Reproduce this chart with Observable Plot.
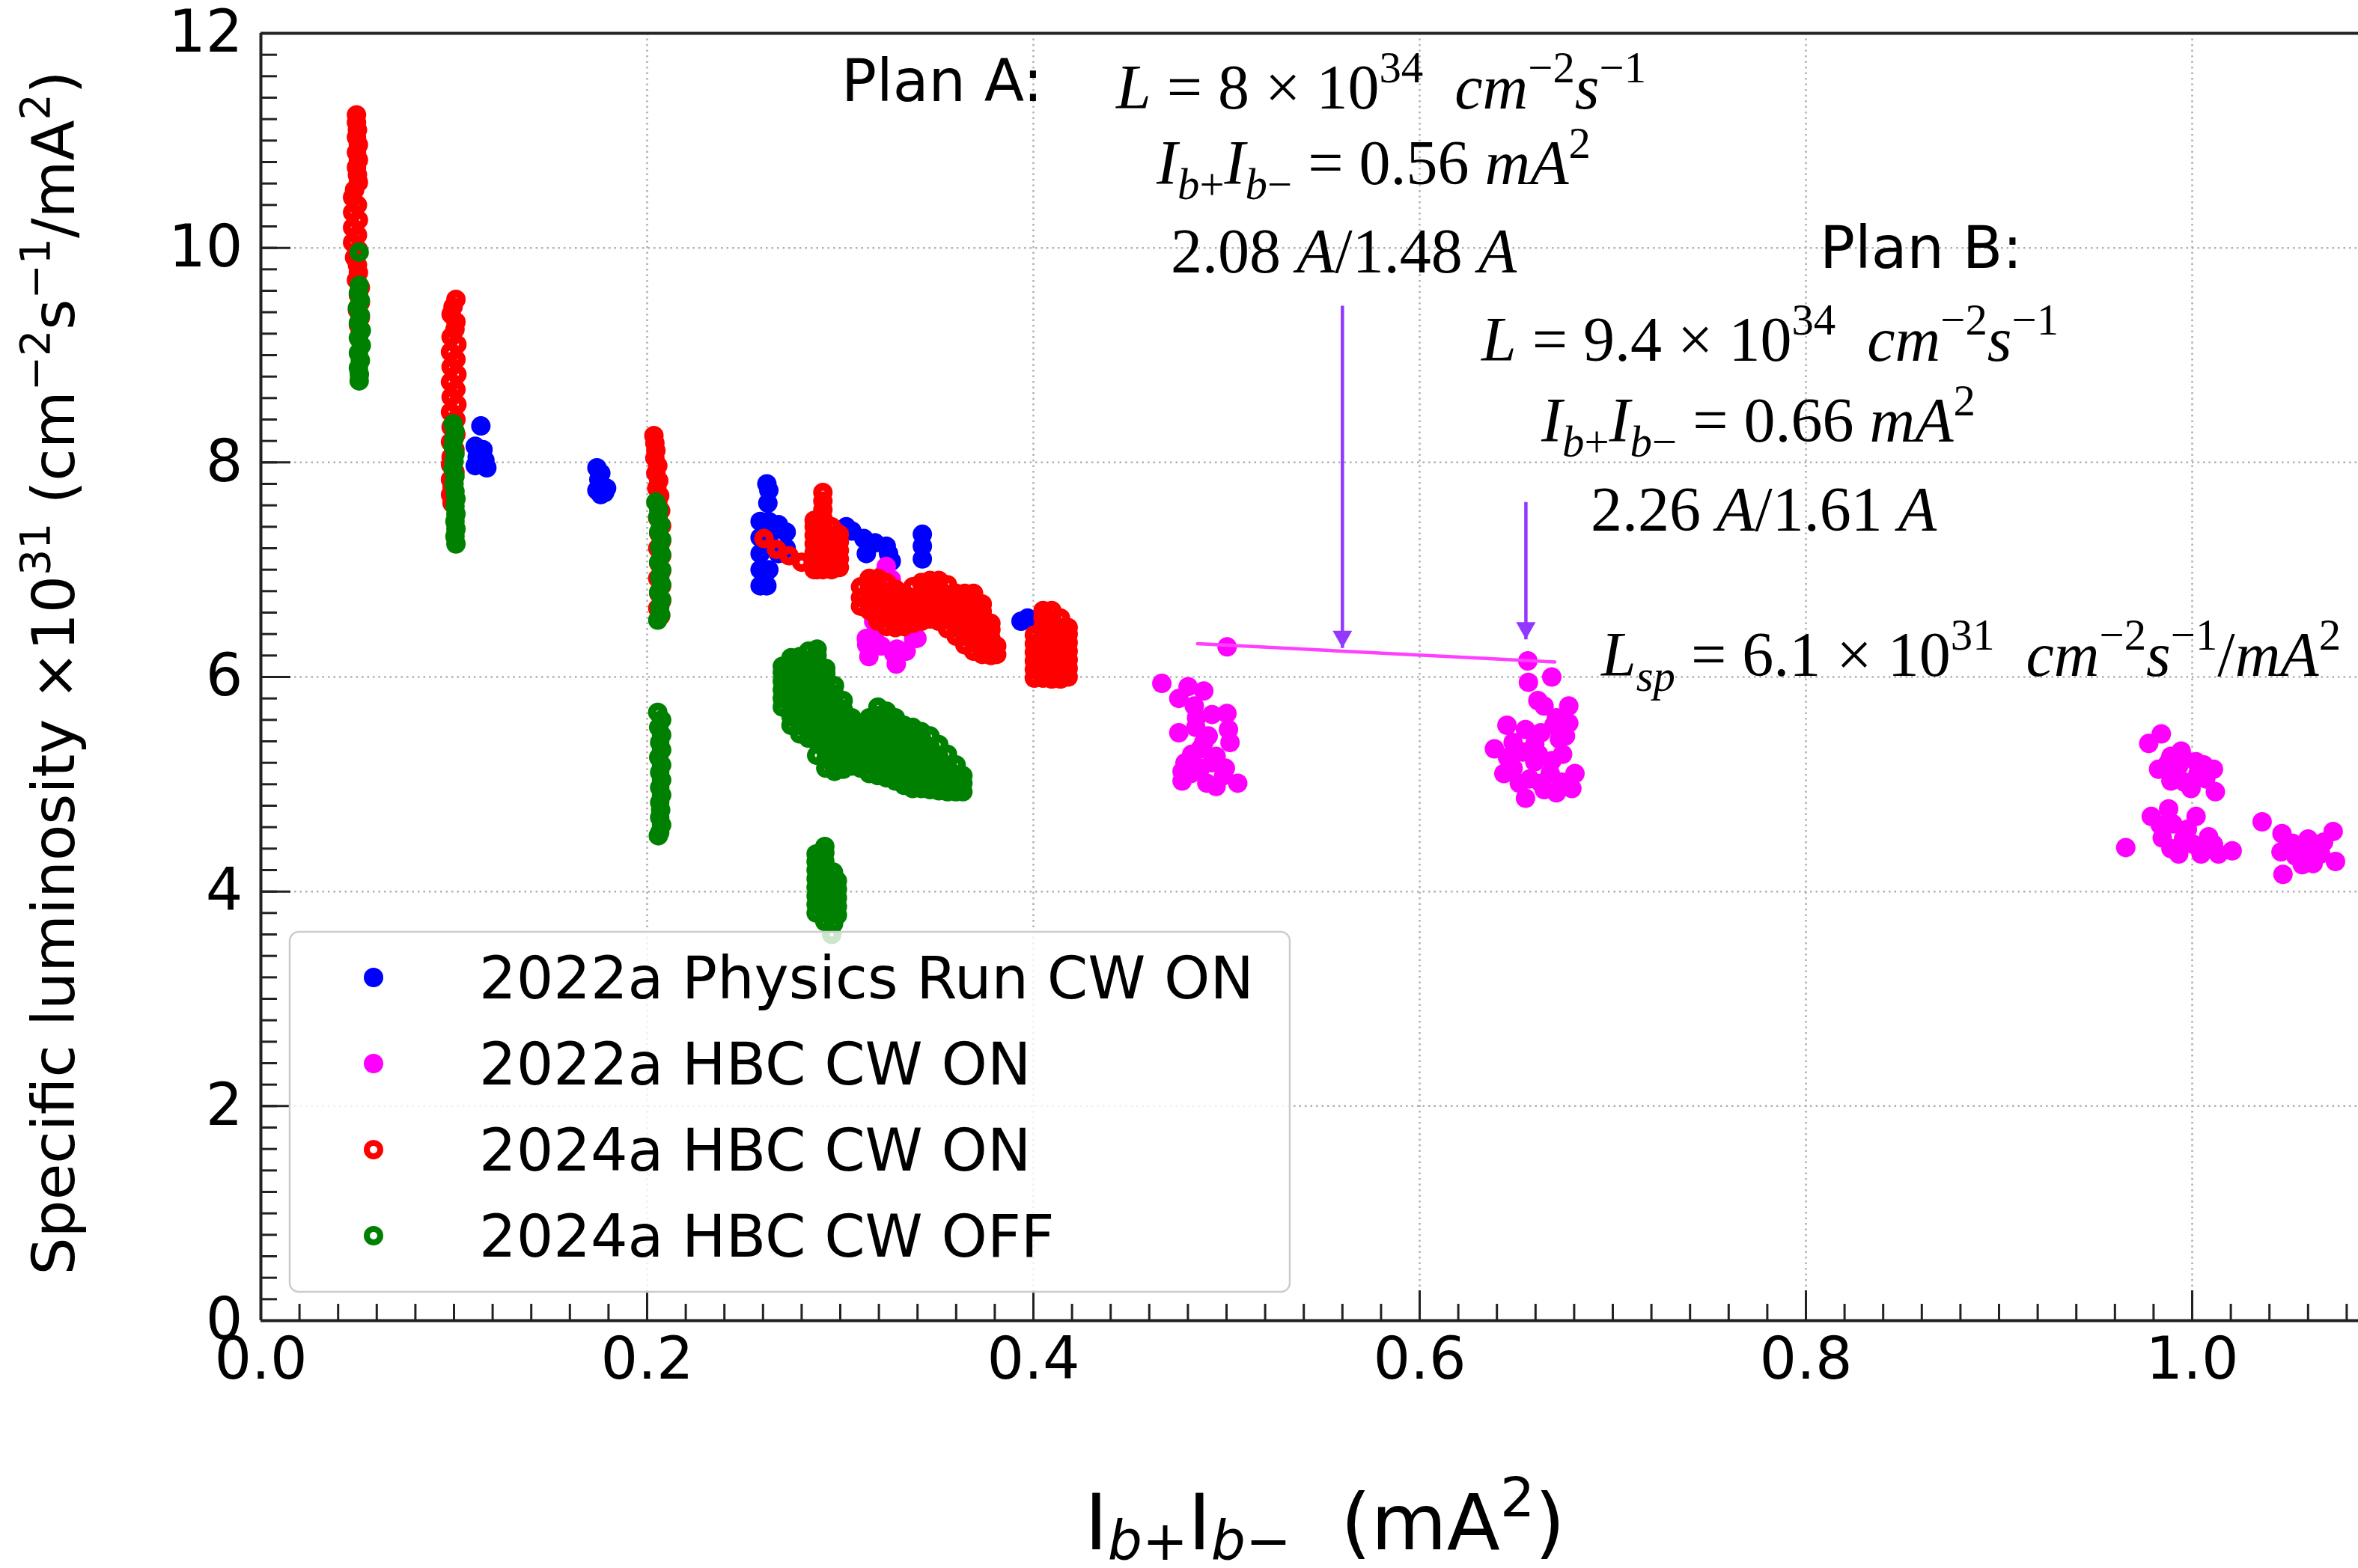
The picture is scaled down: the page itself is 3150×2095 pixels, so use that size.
<!DOCTYPE html>
<html>
<head>
<meta charset="utf-8">
<script src="https://cdn.jsdelivr.net/npm/d3@7"></script>
<script src="https://cdn.jsdelivr.net/npm/@observablehq/plot@0.6"></script>
<style>
  html, body { margin: 0; padding: 0; background: #fff; overflow: hidden; }
  svg { display: block; }
</style>
</head>
<body>
<div id="chart"></div>
<script>
// ---------------- DATA ----------------
const seriesNames = ["2022a Physics Run CW ON", "2022a HBC CW ON", "2024a HBC CW ON", "2024a HBC CW OFF"];
const seriesColors = ["#0000ff", "#ff00ff", "#ff0000", "#008000"];
const seriesHollow = [false, false, true, true];

// 2022a Physics Run CW ON (blue, filled)
const physicsX = [
  0.1139,0.111,0.115,0.112,0.116,0.111,0.117,0.114,
  0.174,0.176,0.175,0.177,0.174,0.178,0.176,0.179,
  0.262,0.263,0.2625,0.2585,0.263,0.268,0.272,0.272,0.268,0.2585,0.263,0.2585,0.2585,0.263,0.2585,0.262,0.2605,
  0.3031,0.306,0.3122,0.3135,0.318,0.3238,0.3264,0.325,
  0.3425,0.3425,0.3425,
  0.3936,0.397
];
const physicsY = [
  8.34,8.15,8.12,8.05,8.02,7.97,7.95,8.00,
  7.95,7.90,7.84,7.78,7.74,7.72,7.70,7.76,
  7.80,7.74,7.62,7.45,7.45,7.42,7.35,7.20,7.15,7.30,7.30,7.15,7.00,7.00,6.85,6.85,6.92,
  7.40,7.36,7.29,7.15,7.25,7.22,7.08,7.15,
  7.33,7.22,7.10,
  6.52,6.55
];

// 2022a HBC CW ON (magenta, filled)
const hbc22X = [
  0.3228,0.3264,0.3238,0.3173,0.3135,0.3148,0.3212,0.3277,0.329,0.3341,0.338,0.3176,0.3293,0.3137,0.3397,
  0.5003,0.4665,0.4801,0.4882,0.4833,0.4753,0.5002,0.501,0.5018,0.4753,0.4841,0.4882,0.482,0.4946,0.477,0.477,0.4898,0.4946,0.5058,0.4994,0.4866,
  0.4845,0.4905,0.4865,0.4925,0.4815,0.4985,0.4925,0.4785,
  0.656,0.6563,0.6684,0.6612,0.6644,0.6772,0.6772,0.6708,0.6452,0.6548,0.6628,0.6387,0.6484,0.6596,0.6724,0.674,0.6484,0.6596,0.6676,0.6804,0.6516,0.6548,0.6708,0.6788,0.6628,0.6436,
  0.6535,0.6615,0.6685,0.6455,0.657,0.6735,0.6645,0.6695,0.6755,
  0.984,0.9775,0.9943,1.002,1.011,0.9826,0.989,0.9994,1.012,1.007,0.993,0.989,
  0.9955,1.003,0.9875,0.996,1.006,
  0.9788,0.9878,1.002,0.990,0.989,0.9955,1.0046,1.0085,1.0136,1.0207,0.993,
  0.9835,0.9975,1.0005,1.011,0.9845,
  0.9656,1.0362,
  1.0465,1.046,1.047,1.060,1.0626,1.073,1.0742,1.0536,1.0665,
  1.052,1.057,1.068,1.0585
];
const hbc22Y = [
  6.97,6.91,7.03,6.52,6.36,6.19,6.29,6.22,6.12,6.24,6.36,6.39,6.26,6.30,6.36,
  6.28,5.94,5.91,5.87,5.73,5.80,5.66,5.51,5.39,5.48,5.53,5.39,5.28,5.26,5.12,5.03,5.01,4.98,5.01,5.15,5.15,
  5.62,5.45,5.33,5.20,5.10,5.08,5.65,5.20,
  6.15,5.95,6.00,5.78,5.73,5.73,5.57,5.62,5.55,5.51,5.48,5.33,5.39,5.37,5.42,5.28,5.15,5.21,5.10,5.10,5.01,4.87,4.92,4.96,5.01,5.10,
  5.30,5.28,5.22,5.25,5.05,5.02,4.95,5.55,5.45,
  5.47,5.38,5.31,5.21,5.14,5.14,5.03,4.96,4.93,5.05,5.17,5.26,
  5.24,5.10,5.20,5.02,5.18,
  4.70,4.77,4.70,4.63,4.40,4.49,4.35,4.51,4.35,4.38,4.35,
  4.62,4.58,4.44,4.44,4.50,
  4.41,4.65,
  4.54,4.37,4.16,4.49,4.26,4.56,4.28,4.33,4.35,
  4.45,4.25,4.46,4.40
];

// 2024a HBC CW ON (red, open) — vertical stripes (one entry per point)
const hbc24onStripeX = [
  0.0495,0.0495,0.050,0.0495,0.0505,0.0495,0.0505,0.0495,0.050,0.0505,0.0485,0.0475,0.050,0.0475,0.0505,0.0475,0.050,0.0475,0.0505,0.0485,0.050,0.0505,0.0495,0.0515,0.0505,0.0515,0.050,0.0515,0.0505,0.0515,
  0.1010,0.0995,0.0985,0.1010,0.1005,0.0985,0.1015,0.0982,0.1010,0.0985,0.1015,0.0982,0.1010,0.0985,0.1015,0.0982,0.1010,0.0985,0.1010,0.0982,0.1005,0.0985,0.0982,0.1005,0.0982,0.0990,0.0982,0.0990,
  0.2035,0.204,0.2045,0.204,0.2055,0.2045,0.206,0.205,0.2065,0.2055,0.207,0.2055,0.2075,0.206,0.2075,0.2055,0.2075,0.206,0.2075,0.2055,0.2075,0.206,0.2075,0.2055,0.207
];
const hbc24onStripeY = [
  11.24,11.17,11.10,11.03,10.96,10.89,10.82,10.75,10.68,10.61,10.54,10.47,10.40,10.33,10.26,10.19,10.12,10.05,9.98,9.91,9.84,9.77,9.70,9.63,9.56,9.49,9.42,9.35,9.28,9.22,
  9.52,9.45,9.38,9.31,9.24,9.17,9.10,9.03,8.96,8.89,8.82,8.75,8.68,8.61,8.54,8.47,8.40,8.33,8.26,8.19,8.12,8.05,7.98,7.91,7.84,7.77,7.70,7.62,
  8.25,8.18,8.11,8.04,7.97,7.90,7.83,7.76,7.69,7.62,7.55,7.48,7.41,7.34,7.27,7.20,7.13,7.06,6.99,6.92,6.85,6.78,6.71,6.64,6.57
];
// red dense groups, as columns: x of each column and the y values read in it
const hbc24onColX = [
  0.2865, 0.291, 0.2955, 0.2995,
  0.3105, 0.315, 0.3195, 0.324, 0.3285, 0.333, 0.3375, 0.342, 0.3465, 0.351, 0.3555, 0.360, 0.3645, 0.369, 0.3735, 0.378, 0.381,
  0.4005, 0.405, 0.4095, 0.414, 0.418
];
const hbc24onColY = [
  [7.00,7.08,7.16,7.24,7.32,7.40,7.46],
  [7.00,7.08,7.16,7.24,7.32,7.40,7.48,7.56,7.64,7.72],
  [7.00,7.08,7.16,7.24,7.32,7.40],
  [7.02,7.10,7.18,7.26,7.33],
  [6.66,6.74,6.84],
  [6.62,6.70,6.78,6.86,6.92],
  [6.52,6.60,6.68,6.76,6.84,6.92],
  [6.47,6.55,6.63,6.71,6.79,6.88],
  [6.46,6.54,6.62,6.70,6.78,6.82],
  [6.47,6.55,6.63,6.71,6.78],
  [6.50,6.58,6.66,6.74,6.84],
  [6.52,6.60,6.68,6.76,6.88],
  [6.54,6.62,6.70,6.78,6.86,6.90],
  [6.52,6.60,6.68,6.76,6.84,6.90],
  [6.45,6.53,6.61,6.69,6.77,6.86],
  [6.38,6.46,6.54,6.62,6.70,6.78],
  [6.30,6.38,6.46,6.54,6.62,6.70,6.78],
  [6.24,6.32,6.40,6.48,6.56,6.64,6.72,6.78],
  [6.21,6.29,6.37,6.45,6.53,6.61,6.68],
  [6.20,6.28,6.36,6.44,6.50],
  [6.21,6.29],
  [5.99,6.07,6.15,6.23,6.31,6.39],
  [5.99,6.07,6.15,6.23,6.31,6.39,6.47,6.55,6.62],
  [5.98,6.06,6.14,6.22,6.30,6.38,6.46,6.54,6.62],
  [5.98,6.06,6.14,6.22,6.30,6.38,6.46,6.55],
  [6.00,6.08,6.16,6.24,6.32,6.40,6.46]
];
// red isolated chain of rings
const hbc24onChainX = [0.2605, 0.267, 0.2735, 0.280, 0.288];
const hbc24onChainY = [7.29, 7.19, 7.13, 7.07, 7.00];

// 2024a HBC CW OFF (green, open) — vertical stripes
const hbc24offStripeX = [
  0.0509,0.051,0.0505,0.0515,0.050,0.0515,0.0505,0.052,0.0505,0.052,0.0505,0.0515,0.0505,0.051,0.0509,
  0.0995,0.1005,0.100,0.0995,0.1005,0.100,0.0995,0.1005,0.100,0.1005,0.101,0.1005,0.101,0.1005,0.101,0.1005,0.101,
  0.2045,0.206,0.2055,0.207,0.206,0.2075,0.2065,0.2075,0.206,0.2075,0.2065,0.2075,0.206,0.2075,0.2065,0.207,0.2055,
  0.2055,0.2075,0.206,0.2075,0.2065,0.2075,0.206,0.2075,0.2065,0.2075,0.2065,0.2075,0.2065,0.207,0.2065,0.2075,0.2065,0.2058
];
const hbc24offStripeY = [
  9.96,9.65,9.58,9.51,9.44,9.37,9.30,9.23,9.16,9.09,9.02,8.95,8.88,8.82,8.76,
  8.36,8.29,8.22,8.15,8.08,8.01,7.94,7.87,7.80,7.73,7.66,7.59,7.52,7.45,7.38,7.31,7.24,
  7.63,7.56,7.49,7.42,7.35,7.28,7.21,7.14,7.07,7.00,6.93,6.86,6.79,6.72,6.65,6.58,6.53,
  5.67,5.60,5.53,5.46,5.39,5.32,5.25,5.18,5.11,5.04,4.97,4.90,4.83,4.76,4.69,4.62,4.55,4.52
];
// green dense groups, as columns
const hbc24offColX = [
  0.270, 0.2745, 0.279, 0.2835, 0.288, 0.2925, 0.297, 0.3015, 0.306, 0.3105, 0.315, 0.3195, 0.324, 0.3285,
  0.333, 0.3375, 0.342, 0.3465, 0.351, 0.3555, 0.360, 0.3635,
  0.2875, 0.292, 0.2965, 0.2985
];
const hbc24offColY = [
  [5.72,5.80,5.88,5.96,6.04,6.10],
  [5.55,5.63,5.71,5.79,5.87,5.95,6.03,6.11,6.18],
  [5.47,5.55,5.63,5.71,5.79,5.87,5.95,6.03,6.11,6.19],
  [5.43,5.51,5.59,5.67,5.75,5.83,5.91,5.99,6.07,6.15,6.24],
  [5.40,5.48,5.56,5.64,5.72,5.80,5.88,5.96,6.04,6.12,6.20,6.26],
  [5.15,5.23,5.31,5.39,5.47,5.55,5.63,5.71,5.79,5.87,5.95,6.03,6.08],
  [5.12,5.20,5.28,5.36,5.44,5.52,5.60,5.68,5.76,5.84,5.92],
  [5.14,5.22,5.30,5.38,5.46,5.54,5.62,5.70,5.78],
  [5.17,5.25,5.33,5.41,5.49,5.57,5.62],
  [5.15,5.23,5.31,5.39,5.47,5.56],
  [5.10,5.18,5.26,5.34,5.42,5.50,5.58,5.62],
  [5.08,5.16,5.24,5.32,5.40,5.48,5.56,5.64,5.72],
  [5.06,5.14,5.22,5.30,5.38,5.46,5.54,5.62,5.68],
  [5.03,5.11,5.19,5.27,5.35,5.43,5.51,5.59,5.62],
  [4.99,5.07,5.15,5.23,5.31,5.39,5.47,5.55],
  [4.96,5.04,5.12,5.20,5.28,5.36,5.44,5.53],
  [4.96,5.04,5.12,5.20,5.28,5.36,5.44,5.49],
  [4.95,5.03,5.11,5.19,5.27,5.35,5.45],
  [4.94,5.02,5.10,5.18,5.26,5.37],
  [4.93,5.01,5.09,5.17,5.28],
  [4.93,5.01,5.09,5.18],
  [4.93,5.01,5.08],
  [3.80,3.88,3.96,4.04,4.12,4.20,4.28,4.35],
  [3.72,3.80,3.88,3.96,4.04,4.12,4.20,4.28,4.36,4.42],
  [3.70,3.78,3.86,3.94,4.02,4.10,4.18],
  [3.78,3.86,3.94,4.02,4.10]
];
// green isolated rings
const hbc24offSingleX = [0.2878, 0.2956];
const hbc24offSingleY = [5.27, 3.60];

// Annotation data
const arrowX = [0.56, 0.655];
const arrowTop = [9.46, 7.63];
const arrowTip = [6.27, 6.35];
const fitLineX = [0.485, 0.670];
const fitLineY = [6.31, 6.14];

// Ticks
const xMajorTicks = [0, 0.2, 0.4, 0.6, 0.8, 1.0];
const xTickLabels = ["0.0", "0.2", "0.4", "0.6", "0.8", "1.0"];
const yMajorTicks = [0, 2, 4, 6, 8, 10, 12];
const yTickLabels = ["0", "2", "4", "6", "8", "10", "12"];
const xMinorTicks = d3.range(0, 55).map(i => +(i * 0.02).toFixed(2));
const yMinorTicks = d3.range(0, 61).map(i => +(i * 0.2).toFixed(1));
const xGrid = [0.2, 0.4, 0.6, 0.8, 1.0];
const yGrid = [2, 4, 6, 8, 10];

// ---------------- BUILD ----------------
const pairs = (xs, ys) => xs.map((x, i) => ({x, y: ys[i]}));
const cols = (xs, yss) => xs.flatMap((x, i) => yss[i].map(y => ({x, y})));
const seriesPoints = [
  pairs(physicsX, physicsY),
  pairs(hbc22X, hbc22Y),
  [...pairs(hbc24onStripeX, hbc24onStripeY), ...cols(hbc24onColX, hbc24onColY), ...pairs(hbc24onChainX, hbc24onChainY)],
  [...pairs(hbc24offStripeX, hbc24offStripeY), ...cols(hbc24offColX, hbc24offColY), ...pairs(hbc24offSingleX, hbc24offSingleY)]
];
const arrows = arrowX.map((x, i) => ({x, top: arrowTop[i], tip: arrowTip[i]}));
const fitLine = fitLineX.map((x, i) => ({x, y: fitLineY[i]}));

const W = 3150, H = 2095;
const ML = 348, MT = 44, MB = 331, MR = 0;
const FS = 78;
const purple = "#9238ff";
const gridStyle = {stroke: "#b0b0b0", strokeWidth: 2.5, strokeDasharray: "2.5,5"};

const downTriangle = {
  draw(context, size) {
    const r = Math.sqrt(size / Math.PI);
    context.moveTo(0, 0);
    context.lineTo(-r, -1.77 * r);
    context.lineTo(r, -1.77 * r);
    context.closePath();
  }
};

const dotMarks = seriesNames.map((name, s) => seriesHollow[s]
  ? Plot.dot(seriesPoints[s], {x: "x", y: "y", r: 7.75, fill: "none", stroke: seriesColors[s], strokeWidth: 10.5})
  : Plot.dot(seriesPoints[s], {x: "x", y: "y", r: 13, fill: seriesColors[s], stroke: "none"}));

const plot = Plot.plot({
  width: W, height: H,
  marginLeft: ML, marginRight: MR, marginTop: MT, marginBottom: MB,
  x: {domain: [0, (W - ML - MR) / 2580]},
  y: {domain: [0, 12]},
  style: {fontFamily: "'DejaVu Sans', sans-serif", fontSize: FS + "px", background: "white", color: "black", overflow: "visible"},
  marks: [
    Plot.ruleX(xGrid, gridStyle),
    Plot.ruleY(yGrid, gridStyle),
    ...dotMarks,
    Plot.line(fitLine, {x: "x", y: "y", stroke: "#ff40ff", strokeWidth: 4.5}),
    Plot.link(arrows, {x1: "x", x2: "x", y1: "top", y2: "tip", stroke: purple, strokeWidth: 4.5}),
    Plot.dot(arrows, {x: "x", y: "tip", symbol: downTriangle, r: 13, fill: purple, stroke: "none"}),
    Plot.ruleY([12], {stroke: "#222", strokeWidth: 4}),
    Plot.ruleY([0], {stroke: "#222", strokeWidth: 4}),
    Plot.ruleX([0], {stroke: "#222", strokeWidth: 4}),
    Plot.axisX({ticks: xMinorTicks, tickSize: -22, tickFormat: () => "", stroke: "#222", strokeWidth: 3, label: null}),
    Plot.axisX({ticks: xMajorTicks, tickSize: -40, tickFormat: () => "", stroke: "#222", strokeWidth: 3, label: null}),
    Plot.axisX({ticks: xMajorTicks, tickSize: 0, tickPadding: 22, fontSize: FS, tickFormat: d => xTickLabels[xMajorTicks.indexOf(d)], label: null}),
    Plot.axisY({ticks: yMinorTicks, tickSize: -22, tickFormat: () => "", stroke: "#222", strokeWidth: 3, label: null}),
    Plot.axisY({ticks: yMajorTicks, tickSize: -40, tickFormat: () => "", stroke: "#222", strokeWidth: 3, label: null}),
    Plot.axisY({ticks: yMajorTicks, tickSize: 0, tickPadding: 24, fontSize: FS, tickFormat: d => yTickLabels[yMajorTicks.indexOf(d)], label: null})
  ]
});

document.getElementById("chart").appendChild(plot);
const svg = d3.select(plot);

// ---------- rich text helper ----------
function richText(parent, x, y, parts, {size, family, anchor = "start", transform = null, subShift = 0.24}) {
  const t = parent.append("text")
    .attr("x", x).attr("y", y)
    .attr("font-family", family)
    .attr("font-size", size)
    .attr("text-anchor", anchor)
    .attr("fill", "black")
    .style("white-space", "pre");
  if (transform) t.attr("transform", transform);
  let shift = 0;
  for (const p of parts) {
    let target = 0, fs = size;
    if (p.sup) { target = -0.42 * size; fs = 0.7 * size; }
    else if (p.sub) { target = subShift * size; fs = 0.7 * size; }
    const ts = t.append("tspan").attr("font-size", fs).attr("dy", target - shift).text(p.t);
    if (p.it) ts.attr("font-style", "italic");
    shift = target;
  }
  return t;
}

const sans = "'DejaVu Sans', sans-serif";
const serif = "'Liberation Serif', 'Times New Roman', serif";
const g = svg.append("g");

// Axis labels
richText(g, 0, 0, [
  {t: "Specific luminosity ×10"}, {t: "31", sup: 1}, {t: " (cm"}, {t: "−2", sup: 1},
  {t: "s"}, {t: "−1", sup: 1}, {t: "/mA"}, {t: "2", sup: 1}, {t: ")"}
], {size: 79, family: sans, anchor: "middle", transform: "translate(99,899) rotate(-90)"});

richText(g, 1770, 2070, [
  {t: "I"}, {t: "b", sub: 1, it: 1}, {t: "+", sub: 1}, {t: "I"}, {t: "b", sub: 1, it: 1}, {t: "−", sub: 1},
  {t: "  (mA"}, {t: "2", sup: 1}, {t: ")"}
], {size: 104, family: sans, anchor: "middle", subShift: 0.13});

// Plan labels
richText(g, 1124, 135, [{t: "Plan A:"}], {size: FS, family: sans});
richText(g, 2431, 358, [{t: "Plan B:"}], {size: FS, family: sans});

const MF = 84;
const lumLine = (num, exp) => [
  {t: "L", it: 1}, {t: " = " + num + " × 10"}, {t: exp, sup: 1}, {t: "  "},
  {t: "cm", it: 1}, {t: "−2", sup: 1}, {t: "s", it: 1}, {t: "−1", sup: 1}
];
const currLine = (val) => [
  {t: "I", it: 1}, {t: "b", sub: 1, it: 1}, {t: "+", sub: 1},
  {t: "I", it: 1}, {t: "b", sub: 1, it: 1}, {t: "−", sub: 1},
  {t: " = " + val + " "}, {t: "mA", it: 1}, {t: "2", sup: 1}
];
const beamLine = (a, b) => [{t: a + " "}, {t: "A", it: 1}, {t: "/" + b + " "}, {t: "A", it: 1}];

richText(g, 1491, 145, lumLine("8", "34"), {size: MF, family: serif});
richText(g, 1545, 246, currLine("0.56"), {size: MF, family: serif});
richText(g, 1564, 364, beamLine("2.08", "1.48"), {size: MF, family: serif});
richText(g, 1979, 482, lumLine("9.4", "34"), {size: MF, family: serif});
richText(g, 2059, 590, currLine("0.66"), {size: MF, family: serif});
richText(g, 2125, 709, beamLine("2.26", "1.61"), {size: MF, family: serif});
richText(g, 2139, 903, [
  {t: "L", it: 1}, {t: "sp", sub: 1, it: 1}, {t: " = 6.1 × 10"}, {t: "31", sup: 1}, {t: "  "},
  {t: "cm", it: 1}, {t: "−2", sup: 1}, {t: "s", it: 1}, {t: "−1", sup: 1}, {t: "/"}, {t: "mA", it: 1}, {t: "2", sup: 1}
], {size: MF, family: serif});

// Legend
const lg = svg.append("g");
lg.append("rect")
  .attr("x", 387).attr("y", 1245).attr("width", 1336).attr("height", 481)
  .attr("rx", 12).attr("ry", 12)
  .attr("fill", "white").attr("fill-opacity", 0.8)
  .attr("stroke", "#cccccc").attr("stroke-width", 2.5);
seriesNames.forEach((name, s) => {
  const cy = 1306 + s * 115;
  if (seriesHollow[s]) {
    lg.append("circle").attr("cx", 499).attr("cy", cy).attr("r", 9)
      .attr("fill", "none").attr("stroke", seriesColors[s]).attr("stroke-width", 8);
  } else {
    lg.append("circle").attr("cx", 499).attr("cy", cy).attr("r", 13).attr("fill", seriesColors[s]);
  }
  lg.append("text").attr("x", 640).attr("y", cy + 28)
    .attr("text-anchor", "start")
    .attr("font-family", sans).attr("font-size", FS).attr("fill", "black").text(name);
});
</script>
</body>
</html>
